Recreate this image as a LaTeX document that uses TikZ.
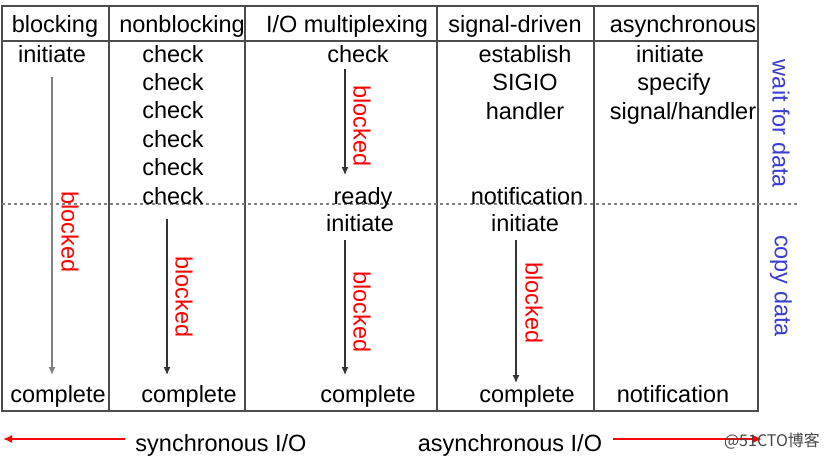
\documentclass[tikz,border=0pt]{standalone}
\usepackage{fontspec}
\usetikzlibrary{arrows.meta}
\setmainfont{Liberation Sans}
\newfontfamily\cjkfont{Noto Sans CJK SC}
\definecolor{phaseblue}{RGB}{60,60,210}
\tikzset{
  txt/.style={anchor=base,inner sep=0pt,font=\fontsize{23.5}{28}\selectfont},
  lbl/.style={inner sep=0pt,rotate=-90,font=\fontsize{23.5}{28}\selectfont},
  grid/.style={gray!60!black,line width=1.4pt},
  flow/.style={-{Latex[length=8pt,width=7pt]},line width=1.2pt,gray!40!black},
  redflow/.style={-{Latex[length=9pt,width=8pt]},line width=1.6pt,red}
}
\begin{document}
\begin{tikzpicture}[x=1pt,y=-1pt]
\useasboundingbox (0,0) rectangle (832,461);
% table frame
\draw[grid] (2,6) rectangle (758,411);
\draw[grid] (2,41) -- (758,41);
\foreach \cx in {109,245,437,594}
  \draw[grid] (\cx,6) -- (\cx,411);
\draw[gray,line width=1.2pt,dash pattern=on 3pt off 3pt] (2,204) -- (798,204);
% headers
\node[txt] (hblk) at (55,32) {blocking};
\node[txt] (hnon) at (182,32) {nonblocking};
\node[txt] (hmux) at (347,32) {I/O multiplexing};
\node[txt] (hsig) at (515,32) {signal-driven};
\node[txt] (hasy) at (683,32) {asynchronous};
% blocking
\node[txt] (blkI) at (52,62) {initiate};
\node[txt] (blkC) at (58,402) {complete};
\coordinate (blkA) at (52,77);
\coordinate (blkB) at (52,375);
\draw[flow,gray] (blkA) -- (blkB);
\node[lbl,red] (blkL) at (70,232) {blocked};
% nonblocking
\foreach \i in {0,...,5}
  \node[txt] (chk\i) at (173,{62+28.4*\i}) {check};
\node[txt] (nonC) at (189,402) {complete};
\coordinate (nonA) at (167,219);
\coordinate (nonB) at (167,375);
\draw[flow] (nonA) -- (nonB);
\node[lbl,red] (nonL) at (184,297) {blocked};
% I/O multiplexing
\node[txt] (muxK) at (358,62) {check};
\node[txt] (muxR) at (363,204) {ready};
\node[txt] (muxI) at (360,231) {initiate};
\node[txt] (muxC) at (368,402) {complete};
\coordinate (muxA) at (345,69);
\coordinate (muxB) at (345,175);
\draw[flow] (muxA) -- (muxB);
\node[lbl,red] (muxL1) at (362,126) {blocked};
\coordinate (muxD) at (345,240);
\coordinate (muxE) at (345,375);
\draw[flow] (muxD) -- (muxE);
\node[lbl,red] (muxL2) at (362,312) {blocked};
% signal-driven
\node[txt] (sigE) at (525,62) {establish};
\node[txt] (sigS) at (525,90) {SIGIO};
\node[txt] (sigH) at (525,119) {handler};
\node[txt] (sigN) at (527,204) {notification};
\node[txt] (sigI) at (525,231) {initiate};
\node[txt] (sigC) at (527,402) {complete};
\coordinate (sigA) at (516,240);
\coordinate (sigB) at (516,383);
\draw[flow] (sigA) -- (sigB);
\node[lbl,red] (sigL) at (534,303) {blocked};
% asynchronous
\node[txt] (asyI) at (670,62) {initiate};
\node[txt] (asyS) at (674,90) {specify};
\node[txt] (asyH) at (683,119) {signal/handler};
\node[txt] (asyN) at (673,402) {notification};
% phases
\node[lbl,phaseblue] (wait) at (781,124) {wait for data};
\node[lbl,phaseblue] (copy) at (781,286) {copy data};
% bottom
\node[txt] (sync) at (221,451) {synchronous I/O};
\node[txt] (async) at (510,451) {asynchronous I/O};
\coordinate (syncA) at (125,439);
\coordinate (syncB) at (3,439);
\draw[redflow] (syncA) -- (syncB);
\coordinate (asyncA) at (613,439);
\coordinate (asyncB) at (762,439);
\draw[redflow] (asyncA) -- (asyncB);
\node[anchor=base,inner sep=0pt,font=\cjkfont\fontsize{16}{19}\selectfont,text=gray!55!black] (mark) at (772,446) {@51CTO博客};
\end{tikzpicture}
\end{document}
